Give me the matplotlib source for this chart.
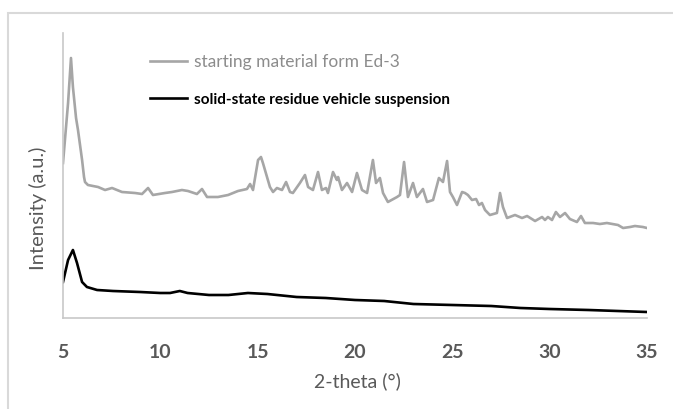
import matplotlib
matplotlib.use("Agg")
import numpy as np
from matplotlib import pyplot as plt
from matplotlib.patches import Rectangle

# starting material (form Ed-3) pattern, 2-theta in degrees, intensity in a.u.
ed3_theta = [5.00, 5.26, 5.41, 5.51, 5.67, 5.77, 5.98, 6.08, 6.13, 6.28, 6.80, 7.16, 7.52,
             8.03, 8.70, 9.06, 9.37, 9.62, 10.24, 10.60, 11.11, 11.42, 11.88, 12.14, 12.40,
             12.96, 13.48, 13.99, 14.45, 14.61, 14.76, 15.02, 15.17, 15.27, 15.48, 15.63,
             15.79, 15.99, 16.25, 16.46, 16.66, 16.81, 17.17, 17.43, 17.59, 17.84, 18.10,
             18.30, 18.51, 18.61, 18.87, 19.07, 19.13, 19.33, 19.59, 19.85, 20.10, 20.36,
             20.62, 20.92, 21.08, 21.28, 21.44, 21.69, 22.16, 22.31, 22.52, 22.72, 22.98,
             23.18, 23.49, 23.70, 24.01, 24.31, 24.52, 24.73, 24.88, 25.03, 25.24, 25.50,
             25.65, 25.80, 26.01, 26.22, 26.37, 26.52, 26.68, 26.93, 27.29, 27.45, 27.60,
             27.81, 28.22, 28.58, 28.84, 29.25, 29.61, 29.76, 29.91, 30.12, 30.32, 30.53,
             30.79, 31.04, 31.40, 31.61, 31.81, 32.23, 32.58, 32.94, 33.51, 33.77, 34.13,
             34.38, 34.79, 35.00]
ed3_int = [155, 215, 260, 231, 200, 188, 158, 141, 136, 133, 131, 128, 130,
           126, 125, 124, 130, 123, 125, 126, 128, 127, 124, 129, 121,
           121, 123, 127, 129, 134, 128, 158, 161, 155, 141, 131,
           126, 130, 128, 136, 126, 125, 135, 143, 131, 128, 146,
           128, 130, 125, 146, 138, 141, 128, 135, 126, 145, 128,
           125, 158, 135, 140, 125, 116, 121, 123, 156, 121, 135,
           121, 129, 116, 118, 140, 136, 157, 126, 121, 113, 126,
           125, 123, 118, 119, 113, 115, 108, 103, 105, 125, 111,
           100, 103, 100, 102, 97, 101, 98, 101, 98, 106, 101,
           105, 99, 96, 102, 95, 95, 94, 95, 93, 90, 91,
           92, 91, 90]

# residue from the vehicle suspension
res_theta = [5.00, 5.26, 5.51, 5.72, 5.98, 6.23, 6.75, 7.57, 8.96, 10.0, 10.5, 11.0, 11.4,
             12.5, 13.5, 14.5, 15.5, 16.5, 17.0, 18.5, 20.0, 21.5, 22.0, 23.0, 25.0, 27.0,
             28.5, 30.0, 32.0, 35.0]
res_int = [36, 58, 68, 55, 36, 31, 28, 27, 26, 25, 25, 27, 25,
           23, 23, 25, 24, 22, 21, 20, 18, 17, 16, 14, 13, 12,
           10, 9, 8, 6]

labels = ["starting material form Ed-3", "solid-state residue vehicle suspension"]
xticks = [5, 10, 15, 20, 25, 30, 35]

font = ["Lato", "DejaVu Sans"]

W, H = 673, 409
fig = plt.figure(figsize=(W / 100, H / 100), dpi=100)
ax = fig.add_axes([63 / W, 1 - 318 / H, (647 - 63) / W, (318 - 33) / H])

ax.plot(ed3_theta, ed3_int, color="#a6a6a6", lw=1.9, label=labels[0])
ax.plot(res_theta, res_int, color="black", lw=1.9, label=labels[1])

ax.set_xlim(5, 35)
ax.set_ylim(0, 285)
ax.set_xticks(xticks)
ax.set_xticklabels([str(t) for t in xticks], fontsize=14, fontweight="bold",
                   color="#595959", family=font)
ax.set_yticks([])
ax.tick_params(axis="x", length=0, pad=19)
for s in ["top", "right"]:
    ax.spines[s].set_visible(False)
for s in ["left", "bottom"]:
    ax.spines[s].set_color("#c8c8c8")
    ax.spines[s].set_linewidth(1.2)

fig.text(357 / W, 1 - 381 / H, "2-theta (°)", ha="center", va="center",
         fontsize=14, color="#595959", family=font)
fig.text(38 / W, 1 - 208 / H, "Intensity (a.u.)", ha="center", va="center",
         rotation=90, fontsize=14.5, color="#595959", family=font)

leg = ax.legend(loc="upper left", bbox_to_anchor=(150 / W, 1 - 54 / H),
                bbox_transform=fig.transFigure, frameon=False, handlelength=2.3,
                handletextpad=0.45, labelspacing=1.4, borderpad=0, borderaxespad=0,
                prop={"family": font, "size": 11.5})
t0, t1 = leg.get_texts()
t0.set_color("#8c8c8c")
t0.set_fontsize(12.5)
t1.set_color("black")
t1.set_fontsize(11)
t1.set_fontweight("bold")

# light frame around the chart area
fig.add_artist(Rectangle((8 / W, -0.1), 2, 1 - 13 / H + 0.1, transform=fig.transFigure,
                         fill=False, edgecolor="#d9d9d9", lw=1.5))

fig.savefig("out.png", dpi=100)
